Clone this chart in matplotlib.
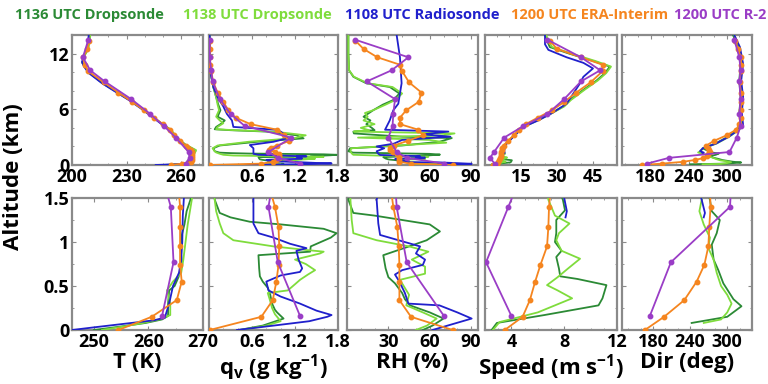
import matplotlib
matplotlib.use("Agg")
import matplotlib.pyplot as plt
from matplotlib.ticker import MultipleLocator

plt.rcParams['font.family'] = ['Open Sans', 'DejaVu Sans']
plt.rcParams['font.weight'] = 'bold'
plt.rcParams['mathtext.fontset'] = 'custom'
plt.rcParams['mathtext.rm'] = 'Open Sans:bold'
plt.rcParams['mathtext.bf'] = 'Open Sans:bold'
plt.rcParams['mathtext.it'] = 'Open Sans:bold'

# ---------------- series names / colours ----------------
SERIES = ["1136 UTC Dropsonde", "1138 UTC Dropsonde", "1108 UTC Radiosonde",
          "1200 UTC ERA-Interim", "1200 UTC R-2"]
COLORS = ["#2b8a35", "#7fdc3c", "#2020cc", "#f5851f", "#9a3dc6"]

# ---------------- model levels (km) ----------------
ERA_ALT = [0.0, 0.15, 0.34, 0.55, 0.74, 0.95, 1.17, 1.40, 1.63, 1.87, 2.1, 2.6, 3.2,
           3.8, 4.4, 5.1, 5.9, 6.8, 7.8, 8.9, 10.1, 10.8, 11.6, 12.5, 13.4]
R2_ALT = [0.16, 0.77, 1.40, 2.95, 4.2, 5.5, 7.1, 9.0, 10.2, 11.6, 13.5]

# ---------------- temperature (K) ----------------
D1_T_ALT = [0.0, 0.04, 0.08, 0.12, 0.16, 0.3, 0.45, 0.5, 0.6, 0.75, 0.9, 1.05, 1.2, 1.35,
            1.5, 1.62, 2.2, 2.9, 3.8, 4.5, 5.3, 6.1, 7.0, 7.9, 8.8, 9.9, 10.6, 11.0,
            11.8, 12.5, 13.3, 13.9]
D1_T = [250.0, 255.0, 259.5, 262.5, 263.6, 263.6, 263.8, 264.8, 265.5, 266.2, 265.9,
        266.0, 266.6, 267.0, 267.8, 267.5, 262.2, 257.8, 254.2, 249.0, 243.6, 238.2,
        231.6, 224.2, 216.8, 209.8, 207.0, 205.6, 206.8, 208.8, 209.3, 209.8]
D2_T_ALT = [0.0, 0.04, 0.08, 0.12, 0.17, 0.3, 0.45, 0.55, 0.65, 0.8, 1.0, 1.2, 1.35, 1.5,
            1.6, 2.2, 2.9, 3.8, 4.5, 5.3, 6.1, 7.0, 7.9, 8.8, 9.9, 10.6, 11.0, 11.8,
            12.5, 13.3, 13.9]
D2_T = [251.5, 255.5, 259.0, 262.0, 264.0, 264.0, 263.4, 264.5, 266.0, 266.4, 266.8,
        267.2, 267.6, 268.0, 268.2, 262.4, 258.0, 254.3, 249.1, 243.8, 238.3, 231.8,
        224.4, 217.0, 210.0, 207.2, 205.8, 207.0, 209.0, 209.6, 210.0]
RS_T_ALT = [0.0, 0.03, 0.07, 0.11, 0.14, 0.3, 0.5, 0.65, 0.8, 1.0, 1.3, 1.5, 1.65, 2.2,
            2.9, 3.8, 4.5, 5.3, 6.1, 7.0, 7.9, 8.8, 9.9, 10.6, 11.1, 11.8, 12.5, 13.3,
            14.0]
RS_T = [246.0, 250.0, 255.5, 261.0, 263.0, 263.8, 264.5, 265.6, 266.0, 266.2, 266.3,
        266.5, 266.2, 261.8, 257.5, 253.6, 248.6, 243.2, 237.8, 231.2, 223.8, 216.5,
        209.2, 206.6, 205.5, 206.5, 208.2, 208.8, 209.2]
ERA_T = [254.5, 260.6, 265.2, 266.1, 265.8, 265.8, 265.8, 265.8, 265.5, 264.0, 262.5,
         259.5, 256.2, 253.8, 250.0, 245.0, 239.5, 233.0, 225.5, 217.5, 208.8, 207.0,
         206.0, 208.5, 209.2]
R2_T = [262.5, 264.6, 264.1, 257.0, 250.5, 243.0, 232.5, 218.0, 210.0, 206.0, 209.0]

# ---------------- specific humidity (g/kg) ----------------
D1_Q_ALT = [0.0, 0.05, 0.13, 0.2, 0.23, 0.3, 0.42, 0.48, 0.55, 0.61, 0.7, 0.85, 0.89,
            0.95, 1.05, 1.1, 1.15, 1.2, 1.23, 1.28, 1.33, 1.48, 1.8, 2.1, 2.5, 2.87, 3.2,
            3.6, 3.75, 3.85, 4.1, 4.5, 4.8, 5.2, 5.9, 6.5, 7.3, 8.4, 10.0, 12.0, 14.0]
D1_Q = [0.42, 0.75, 1.04, 0.95, 0.92, 0.88, 0.85, 0.82, 0.75, 0.71, 0.7, 0.69, 1.41,
        1.42, 1.7, 1.78, 1.6, 1.0, 0.57, 0.3, 0.15, 0.08, 0.06, 0.15, 0.67, 1.32, 1.22,
        0.8, 0.3, 0.08, 0.1, 0.18, 0.22, 0.12, 0.16, 0.13, 0.1, 0.06, 0.02, 0.01, 0.01]
D2_Q_ALT = [0.0, 0.05, 0.1, 0.18, 0.25, 0.34, 0.42, 0.45, 0.52, 0.57, 0.63, 0.68, 0.75,
            0.8, 0.87, 0.89, 0.91, 0.95, 1.02, 1.1, 1.21, 1.35, 1.48, 1.8, 2.1, 2.5, 2.9,
            3.2, 3.6, 3.75, 3.85, 4.1, 4.5, 4.8, 5.2, 5.9, 6.5, 7.3, 8.4, 10.0, 12.0, 14.0]
D2_Q = [0.45, 0.8, 1.0, 0.92, 0.88, 0.85, 0.82, 1.1, 1.2, 1.27, 1.38, 1.48, 1.35, 1.2,
        1.55, 1.6, 1.35, 0.9, 0.34, 0.2, 0.15, 0.1, 0.08, 0.05, 0.12, 0.55, 1.2, 1.35,
        0.9, 0.35, 0.1, 0.12, 0.2, 0.15, 0.1, 0.14, 0.12, 0.1, 0.06, 0.02, 0.01, 0.01]
RS_Q_ALT = [0.0, 0.05, 0.1, 0.15, 0.17, 0.22, 0.3, 0.38, 0.45, 0.55, 0.62, 0.66, 0.7,
            0.8, 0.9, 0.93, 0.98, 1.05, 1.1, 1.21, 1.35, 1.48, 1.8, 2.15, 2.5, 2.9, 3.3,
            3.6, 3.8, 4.1, 4.8, 5.5, 6.3, 7.3, 8.4, 10.0, 12.0, 14.0]
RS_Q = [0.39, 0.9, 1.4, 1.65, 1.71, 1.5, 1.27, 1.0, 0.83, 0.8, 1.0, 1.27, 1.3, 1.25,
        1.22, 1.36, 1.13, 0.9, 0.69, 0.62, 0.62, 0.62, 0.62, 0.57, 0.9, 1.1, 1.05, 1.0,
        0.94, 0.34, 0.32, 0.25, 0.2, 0.12, 0.06, 0.02, 0.01, 0.01]
ERA_Q = [0.01, 0.73, 0.89, 0.94, 0.97, 0.98, 0.97, 0.92, 0.84, 0.86, 0.95, 1.12, 1.05,
         0.95, 0.58, 0.37, 0.27, 0.2, 0.12, 0.06, 0.03, 0.02, 0.01, 0.01, 0.01]
R2_Q = [1.27, 0.96, 0.83, 1.15, 0.5, 0.3, 0.15, 0.05, 0.03, 0.01, 0.01]

# ---------------- relative humidity (%) ----------------
D1_RH_ALT = [0.0, 0.05, 0.13, 0.2, 0.28, 0.35, 0.42, 0.53, 0.6, 0.7, 0.85, 0.95, 1.02,
             1.12, 1.2, 1.3, 1.33, 1.48, 1.8, 2.1, 2.5, 2.9, 3.05, 3.4, 3.6, 3.75, 4.0,
             4.4, 4.8, 5.2, 5.6, 5.9, 6.5, 7.0, 7.7, 8.4, 8.8, 9.5, 10.2, 12.0, 14.0]
D1_RH = [55, 62, 70, 60, 45.7, 42, 40, 34.8, 30, 28, 26.3, 45, 57.8, 67.4, 60, 20, 4.6,
         1.0, 2.2, 40, 67, 76, 40, 5, 4.6, 20, 18, 14, 17, 12, 16, 19, 26, 33.6, 38, 31,
         14, 4.6, 1.5, 1.0, 1.0]
D2_RH_ALT = [0.0, 0.05, 0.13, 0.2, 0.28, 0.4, 0.57, 0.64, 0.72, 0.8, 0.89, 0.95, 1.02,
             1.1, 1.25, 1.48, 1.8, 2.1, 2.4, 2.7, 2.95, 3.2, 3.4, 3.6, 3.75, 4.0, 4.4,
             4.8, 5.2, 5.6, 5.9, 6.5, 7.0, 7.7, 8.4, 8.8, 9.5, 10.2, 12.0, 14.0]
D2_RH = [50, 58, 65, 55, 43, 45, 38.4, 56.6, 56.6, 47, 59, 45, 21.5, 4.6, 3.4, 2.5, 3,
         35, 72, 60, 8, 70, 78, 5, 16, 10, 20, 12, 15, 13, 19, 28, 35, 40, 33, 15, 5,
         1.5, 1.0, 1.0]
RS_RH_ALT = [0.0, 0.13, 0.2, 0.28, 0.3, 0.42, 0.55, 0.63, 0.68, 0.74, 0.8, 0.87, 0.95,
             1.08, 1.21, 1.48, 1.8, 2.0, 2.3, 2.7, 3.05, 3.3, 3.6, 3.8, 4.8, 5.9, 6.6,
             7.7, 8.8, 11.6, 14.0]
RS_RH = [62, 90.4, 80, 67, 44.5, 42, 38, 34.8, 40, 55, 56.6, 50, 53, 24, 22.7, 21.5, 27,
         21.5, 34, 40, 75, 55, 73.5, 27.6, 31, 33.6, 37.2, 38.4, 39.6, 38.4, 36]
ERA_RH = [76.6, 46.4, 38.0, 38.0, 38.0, 37.5, 36.5, 33.6, 31.5, 31.0, 34.0, 44.0, 55.0,
          51.7, 38.4, 38.4, 43.0, 52.0, 54.0, 45.0, 40.0, 38.4, 22.0, 12.0, 6.0]
R2_RH = [70.3, 43.3, 36.0, 30.0, 33.0, 33.6, 34.8, 14.3, 32.4, 44.5, 5.8]

# ---------------- wind speed (m/s) ----------------
D1_S_ALT = [0.0, 0.08, 0.17, 0.28, 0.36, 0.51, 0.58, 0.61, 0.7, 0.83, 0.9, 1.0, 1.1,
            1.25, 1.36, 1.48, 1.8, 2.15, 2.6, 3.05, 3.5, 4.1, 5.0, 5.6, 6.3, 7.0, 8.1,
            9.1, 9.9, 10.6, 11.2, 12.0, 12.7, 13.3, 14.0]
D1_S = [2.5, 2.9, 6.5, 10.6, 10.9, 11.2, 9.0, 7.7, 7.6, 7.4, 7.8, 7.3, 7.4, 7.4, 8.06,
        7.9, 7.0, 8.3, 10.0, 11.8, 13.5, 16.0, 23.0, 27.8, 32.6, 35.4, 41.0, 46.5, 50.0,
        52.0, 45.0, 35.0, 27.0, 26.0, 25.0]
D2_S_ALT = [0.0, 0.09, 0.2, 0.36, 0.45, 0.51, 0.6, 0.7, 0.81, 0.9, 1.02, 1.1, 1.21, 1.3,
            1.48, 1.8, 2.15, 2.6, 3.05, 3.5, 4.1, 5.0, 5.6, 6.3, 7.0, 8.1, 9.1, 9.9, 10.6,
            11.2, 12.0, 12.7, 13.3, 14.0]
D2_S = [2.6, 3.1, 6.0, 8.6, 7.5, 6.7, 7.5, 8.3, 9.2, 7.8, 7.4, 7.6, 8.4, 7.3, 6.8, 6.5,
        8.0, 9.8, 11.5, 13.5, 16.2, 23.5, 28.0, 33.0, 35.8, 41.5, 47.0, 50.5, 52.5, 46.0,
        36.0, 28.0, 26.5, 25.5]
RS_S_ALT = [1.28, 1.35, 1.5, 2.15, 3.05, 4.1, 4.8, 5.6, 6.6, 7.7, 8.8, 9.5, 10.4, 11.0,
            11.6, 12.4, 13.0, 14.0]
RS_S = [8.1, 8.2, 8.0, 8.5, 11.8, 16.0, 22.2, 28.0, 34.0, 36.8, 39.6, 41.0, 45.0, 41.0,
        34.0, 26.4, 25.0, 25.0]
ERA_S = [3.5, 4.85, 5.4, 5.8, 6.2, 6.7, 6.8, 6.85, 7.0, 7.2, 7.8, 9.5, 12.0, 14.0, 17.0,
         22.0, 28.0, 33.0, 38.0, 44.0, 49.0, 49.0, 40.0, 30.0, 27.0]
R2_S = [4.0, 2.08, 3.77, 8.0, 16.0, 26.0, 33.0, 40.0, 48.0, 40.0, 26.0]

# ---------------- wind direction (deg) ----------------
D1_D_ALT = [0.08, 0.15, 0.27, 0.35, 0.53, 0.68, 0.8, 0.97, 1.1, 1.25, 1.35, 1.48, 1.8,
            2.3, 3.05, 3.8, 4.3, 5.6, 7.3, 9.1, 10.9, 12.7, 14.0]
D1_D = [242.5, 300, 323, 310, 293.7, 285.6, 278, 275, 283, 288, 275, 272, 262, 282, 302,
        318, 322, 320, 322, 320, 322, 318, 310]
D2_D_ALT = [0.08, 0.12, 0.2, 0.3, 0.4, 0.5, 0.65, 0.8, 0.93, 1.05, 1.2, 1.35, 1.48, 1.8,
            2.3, 3.05, 3.8, 4.3, 5.6, 7.3, 9.1, 10.9, 12.7, 14.0]
D2_D = [262, 290, 300, 307, 300, 290, 283, 278, 269.5, 272, 262, 255, 258.7, 263, 284,
        304, 320, 324, 322, 325, 321, 324, 320, 312]
RS_D_ALT = [1.28, 1.33, 1.5, 1.8, 2.3, 3.05, 3.8, 4.3, 5.6, 7.3, 9.1, 10.9, 12.7, 14.0]
RS_D = [262, 264, 258, 262.5, 283, 303.6, 319, 326, 324, 326, 323, 326, 321, 312]
ERA_D = [167, 198, 230.7, 250.6, 263, 269.5, 271, 273, 272, 270, 268, 280, 300, 315, 320,
         322, 322, 323, 322, 321, 322, 323, 322, 318, 313]
R2_D = [175, 209, 304.5, 316, 322, 320, 322, 320, 322, 320, 312]

# ---------------- axes configuration ----------------
XLABELS = ["T (K)", r"q$_{\mathbf{v}}$ (g kg$^{\mathbf{-1}}$)", "RH (%)",
           r"Speed (m s$^{\mathbf{-1}}$)", "Dir (deg)"]
TOP_XLIM = [(200, 272), (0, 1.8), (0, 95), (0, 55), (135, 340)]
TOP_XTICKS = [[200, 230, 260], [0.6, 1.2, 1.8], [30, 60, 90], [15, 30, 45], [180, 240, 300]]
BOT_XLIM = [(246, 270), (0, 1.8), (0, 95), (2, 12), (130, 340)]
BOT_XTICKS = [[250, 260, 270], [0.6, 1.2, 1.8], [30, 60, 90], [4, 8, 12], [180, 240, 300]]
TOP_MINOR = [10, 0.2, 10, 5, 20]
BOT_MINOR = [5, 0.2, 10, 1, 20]

PANEL_DATA = [
    [(D1_T, D1_T_ALT), (D2_T, D2_T_ALT), (RS_T, RS_T_ALT), (ERA_T, ERA_ALT), (R2_T, R2_ALT)],
    [(D1_Q, D1_Q_ALT), (D2_Q, D2_Q_ALT), (RS_Q, RS_Q_ALT), (ERA_Q, ERA_ALT), (R2_Q, R2_ALT)],
    [(D1_RH, D1_RH_ALT), (D2_RH, D2_RH_ALT), (RS_RH, RS_RH_ALT), (ERA_RH, ERA_ALT), (R2_RH, R2_ALT)],
    [(D1_S, D1_S_ALT), (D2_S, D2_S_ALT), (RS_S, RS_S_ALT), (ERA_S, ERA_ALT), (R2_S, R2_ALT)],
    [(D1_D, D1_D_ALT), (D2_D, D2_D_ALT), (RS_D, RS_D_ALT), (ERA_D, ERA_ALT), (R2_D, R2_ALT)],
]

W, H = 768, 384
COLS = [(72, 203), (209, 338), (347, 478), (485, 617), (622, 752)]
ROWS = [(35, 165), (198, 330)]
SPINE = "#8a8a8a"

fig = plt.figure(figsize=(W / 100, H / 100), dpi=100)

DRAW_ORDER = [2, 0, 1, 3, 4]

def fmt(v):
    s = ("%g" % v)
    return s

for r, (y0, y1) in enumerate(ROWS):
    for c, (x0, x1) in enumerate(COLS):
        ax = fig.add_axes([x0 / W, 1 - y1 / H, (x1 - x0) / W, (y1 - y0) / H])
        for i in DRAW_ORDER:
            vals, alts = PANEL_DATA[c][i]
            if i >= 3:
                ax.plot(vals, alts, color=COLORS[i], lw=1.3, marker='o', ms=3.2, zorder=3 + i)
            else:
                ax.plot(vals, alts, color=COLORS[i], lw=1.3, zorder=3 + i)
        if r == 0:
            ax.set_xlim(*TOP_XLIM[c])
            ax.set_xticks(TOP_XTICKS[c])
            ax.xaxis.set_minor_locator(MultipleLocator(TOP_MINOR[c]))
            ax.set_ylim(0, 14)
            ax.set_yticks([0, 6, 12])
            ax.yaxis.set_minor_locator(MultipleLocator(2))
        else:
            ax.set_xlim(*BOT_XLIM[c])
            ax.set_xticks(BOT_XTICKS[c])
            ax.xaxis.set_minor_locator(MultipleLocator(BOT_MINOR[c]))
            ax.set_ylim(0, 1.5)
            ax.set_yticks([0, 0.5, 1, 1.5])
            ax.set_yticklabels(["0", "0.5", "1", "1.5"])
            ax.yaxis.set_minor_locator(MultipleLocator(0.25))
            ax.set_xlabel(XLABELS[c], fontsize=16, fontweight='bold', labelpad=1)
        ax.set_xticklabels([fmt(v) for v in ax.get_xticks()])
        if c != 0:
            ax.tick_params(axis='y', labelleft=False)
        for sp in ax.spines.values():
            sp.set_color(SPINE)
            sp.set_linewidth(1.6)
        ax.tick_params(which='both', direction='in', top=True, right=True, color=SPINE)
        ax.tick_params(which='major', length=3, width=0.8, labelsize=13, pad=2)
        ax.tick_params(which='minor', length=1.5, width=0.6)
        for lab in ax.get_xticklabels() + ax.get_yticklabels():
            lab.set_fontweight('bold')

fig.text(14 / W, 1 - 177 / H, "Altitude (km)", rotation=90, ha='center', va='center',
         fontsize=16, fontweight='bold')

LEG_X = [15, 183, 345, 511, 674]
for i, name in enumerate(SERIES):
    fig.text(LEG_X[i] / W, 1 - 15 / H, name, color=COLORS[i], ha='left', va='center',
             fontsize=10.5, fontweight='bold')

fig.savefig("out.png", dpi=100)
